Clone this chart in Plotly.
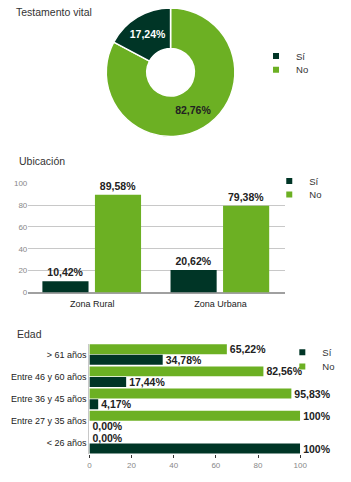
import plotly.graph_objects as go

# ---------------- data ----------------
series_names = ["Sí", "No"]

# pie slices listed in drawing order (No first, Sí ends at 12 o'clock)
testamento_labels = ["No", "Sí"]
testamento_values = [82.76, 17.24]

ubicacion_categories = ["Zona Rural", "Zona Urbana"]
ubicacion_si = [10.42, 20.62]
ubicacion_no = [89.58, 79.38]

edad_categories = ["> 61 años", "Entre 46 y 60 años", "Entre 36 y 45 años",
                   "Entre 27 y 35 años", "< 26 años"]
edad_si = [34.78, 17.44, 4.17, 0.0, 100.0]
edad_no = [65.22, 82.56, 95.83, 100.0, 0.0]

axis_ticks = [0, 20, 40, 60, 80, 100]

# ---------------- style ----------------
DARK = "#003526"
GREEN = "#6CB023"
TXT = "#222222"
FONT = "Liberation Sans"
W, H = 351, 482
COLOR = {"Sí": DARK, "No": GREEN}
PIE_TXT = {"Sí": "white", "No": TXT}


def fmt(v):
    if v == 100:
        return "100%"
    return f"{v:.2f}".replace(".", ",") + "%"


def px_x(p):
    return p / W


def px_y(p):
    return 1 - p / H


fig = go.Figure()

# ---- Pie (Testamento vital) ----
fig.add_trace(go.Pie(
    labels=testamento_labels,
    values=testamento_values,
    text=[fmt(v) for v in testamento_values],
    textinfo="text",
    hole=0.37,
    sort=False,
    direction="clockwise",
    rotation=0,
    marker=dict(colors=[COLOR[l] for l in testamento_labels],
                line=dict(color="white", width=1.5)),
    textposition="inside",
    insidetextorientation="horizontal",
    textfont=dict(family=FONT, size=10.5,
                  color=[PIE_TXT[l] for l in testamento_labels], weight="bold"),
    domain=dict(x=[px_x(107), px_x(239)], y=[px_y(135.5), px_y(3.5)]),
    showlegend=False,
))

# ---- Ubicación bars ----
for name, vals, off in [("Sí", ubicacion_si, -0.39),
                        ("No", ubicacion_no, 0.02)]:
    fig.add_trace(go.Bar(
        x=ubicacion_categories, y=vals, name=name,
        marker=dict(color=COLOR[name], line=dict(width=0)),
        width=0.36, offset=off,
        text=[fmt(v) for v in vals], textposition="outside",
        textfont=dict(family=FONT, size=10.5, color=TXT, weight="bold"),
        constraintext="none", cliponaxis=False,
        xaxis="x", yaxis="y", showlegend=False,
    ))

# ---- Edad bars ----
for name, vals, off in [("No", edad_no, -0.47),
                        ("Sí", edad_si, 0.01)]:
    fig.add_trace(go.Bar(
        y=edad_categories, x=vals, name=name, orientation="h",
        marker=dict(color=COLOR[name], line=dict(width=0)),
        width=0.45, offset=off,
        text=[fmt(v) for v in vals], textposition="outside",
        textfont=dict(family=FONT, size=10.5, color=TXT, weight="bold"),
        constraintext="none", cliponaxis=False,
        xaxis="x2", yaxis="y2", showlegend=False,
    ))

# ---- legend entries (one legend per item for tight spacing) ----
legend_specs = [
    # (legend id, name, text_x, center_y)
    ("legend", "Sí", 294.7, 53.0),
    ("legend2", "No", 294.7, 67.0),
    ("legend3", "Sí", 308.3, 180.3),
    ("legend4", "No", 308.3, 194.0),
    ("legend5", "Sí", 321.7, 355.0),
    ("legend6", "No", 321.7, 369.5),
]
legend_layout = {}
for lid, name, tx, cy in legend_specs:
    fig.add_trace(go.Scatter(
        x=[None], y=[None], mode="markers", name=name,
        marker=dict(symbol="square", size=6, color=COLOR[name]),
        legend=lid, xaxis="x", yaxis="y", showlegend=True,
    ))
    legend_layout[lid] = dict(
        x=px_x(tx - 34), y=px_y(cy), xanchor="left", yanchor="middle",
        bgcolor="rgba(0,0,0,0)", borderwidth=0, itemwidth=30,
        font=dict(family=FONT, size=9.5, color="#333333"),
        itemclick=False, itemdoubleclick=False,
    )

titles = [("Testamento vital", 12, 8.5), ("Ubicación", 15, 159.5), ("Edad", 13.3, 336)]
annotations = [dict(text=t, x=px_x(x), y=px_y(y), xref="paper", yref="paper",
                    xanchor="left", yanchor="middle", showarrow=False,
                    font=dict(family=FONT, size=10.5, color="#333333"))
               for t, x, y in titles]

fig.update_layout(
    width=W, height=H,
    margin=dict(l=0, r=0, t=0, b=0),
    paper_bgcolor="white", plot_bgcolor="white",
    separators=",.",
    barmode="group",
    font=dict(family=FONT, color=TXT),
    annotations=annotations,
    xaxis=dict(domain=[px_x(27), px_x(290)], anchor="y",
               showgrid=False, showline=False, ticks="",
               ticklabelstandoff=4,
               tickfont=dict(family=FONT, size=9, color=TXT),
               fixedrange=True),
    yaxis=dict(domain=[px_y(294), px_y(182.7)], anchor="x",
               range=[0, 100], tickvals=axis_ticks,
               showgrid=True, gridcolor="#c8c8c8", gridwidth=1,
               zeroline=True, zerolinecolor="#a0a0a0", zerolinewidth=1.5,
               showline=False, ticks="",
               tickfont=dict(family=FONT, size=8, color="#888888"),
               fixedrange=True),
    xaxis2=dict(domain=[px_x(89.7), px_x(306)], anchor="y2",
                range=[0, 100], tickvals=axis_ticks,
                showgrid=False, zeroline=False, showline=False,
                ticks="outside", ticklen=3, tickcolor="#333333", tickwidth=1,
                tickfont=dict(family=FONT, size=8, color="#888888"),
                fixedrange=True),
    yaxis2=dict(domain=[px_y(459), px_y(346)], anchor="x2",
                autorange="reversed", showgrid=False, zeroline=False,
                showline=True, linecolor="#c8c8c8", linewidth=1, ticks="",
                tickfont=dict(family=FONT, size=9, color=TXT),
                fixedrange=True),
    **legend_layout,
)

fig.write_html("out.html")
